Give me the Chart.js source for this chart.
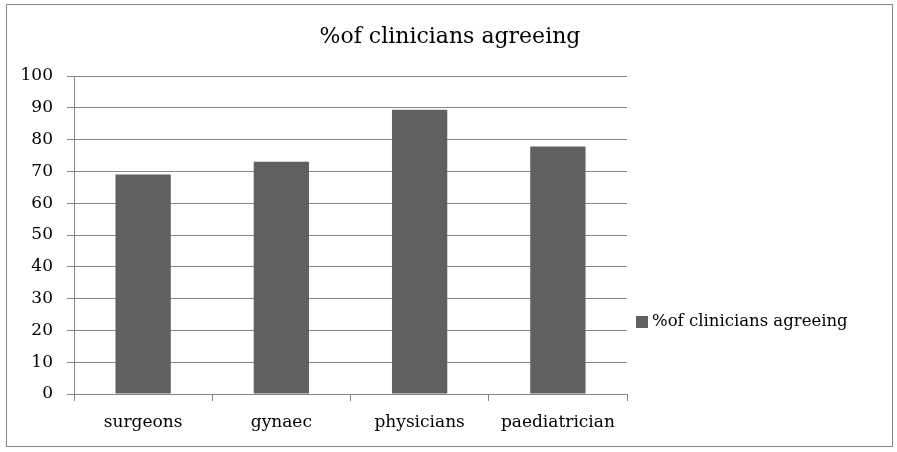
<!DOCTYPE html>
<html>
<head>
<meta charset="utf-8">
<script src="https://cdn.jsdelivr.net/npm/chart.js@4/dist/chart.umd.min.js"></script>
<style>
  html, body { margin: 0; padding: 0; background: #fff; }
  #wrap { width: 897px; height: 452px; position: relative; }
</style>
</head>
<body>
<div id="wrap"><canvas id="chart" width="897" height="452"></canvas></div>
<script>
// chart data
const categories = ['surgeons', 'gynaec', 'physicians', 'paediatrician'];
const agreeing = [69, 73, 89.4, 77.8];
const seriesName = '%of clinicians agreeing';
const chartTitle = '%of clinicians agreeing';

const FONT = "'DejaVu Serif', 'Liberation Serif', serif";
const GRID = '#868686';

// border, centred title and the legend on the right (office style)
const decorPlugin = {
    id: 'decor',
    beforeDraw(chart) {
        const ctx = chart.ctx;
        ctx.save();
        ctx.fillStyle = '#fff';
        ctx.fillRect(0, 0, chart.width, chart.height);
        ctx.strokeStyle = GRID;
        ctx.lineWidth = 1;
        ctx.strokeRect(6.5, 4.5, 886, 442);
        ctx.restore();
    },
    afterDraw(chart) {
        const ctx = chart.ctx;
        const ds = chart.data.datasets[0];
        ctx.save();
        ctx.fillStyle = '#000';
        ctx.textBaseline = 'middle';

        // title
        ctx.font = "22px " + FONT;
        ctx.textAlign = 'center';
        ctx.fillText(chartTitle, 450, 37);

        // legend
        const lx = chart.chartArea.right + 9;
        const ly = 322;
        ctx.fillStyle = ds.backgroundColor;
        ctx.fillRect(lx, ly - 6, 12, 12);
        ctx.fillStyle = '#000';
        ctx.font = "16.5px " + FONT;
        ctx.textAlign = 'left';
        ctx.fillText(ds.label, lx + 16, ly);
        ctx.restore();
    }
};

new Chart(document.getElementById('chart').getContext('2d'), {
    type: 'bar',
    data: {
        labels: categories,
        datasets: [{
            label: seriesName,
            data: agreeing,
            backgroundColor: '#606060',
            borderWidth: 0,
            barPercentage: 0.4,
            categoryPercentage: 1.0
        }]
    },
    options: {
        responsive: false,
        animation: false,
        layout: { padding: { left: 0, right: 270, top: 76, bottom: 0 } },
        plugins: {
            title: { display: false },
            legend: { display: false },
            tooltip: { enabled: false }
        },
        scales: {
            x: {
                grid: { display: true, drawOnChartArea: false, drawTicks: true, tickLength: 7, color: GRID },
                border: { color: GRID },
                ticks: { color: '#000', padding: 11, font: { family: FONT, size: 17 } },
                afterFit(scale) { scale.height = 58; }
            },
            y: {
                min: 0,
                max: 100,
                grid: { color: GRID, tickLength: 7 },
                border: { color: GRID },
                ticks: { stepSize: 10, color: '#000', padding: 14, font: { family: FONT, size: 17 } },
                afterFit(scale) { scale.width = 74; }
            }
        }
    },
    plugins: [decorPlugin]
});
</script>
</body>
</html>
